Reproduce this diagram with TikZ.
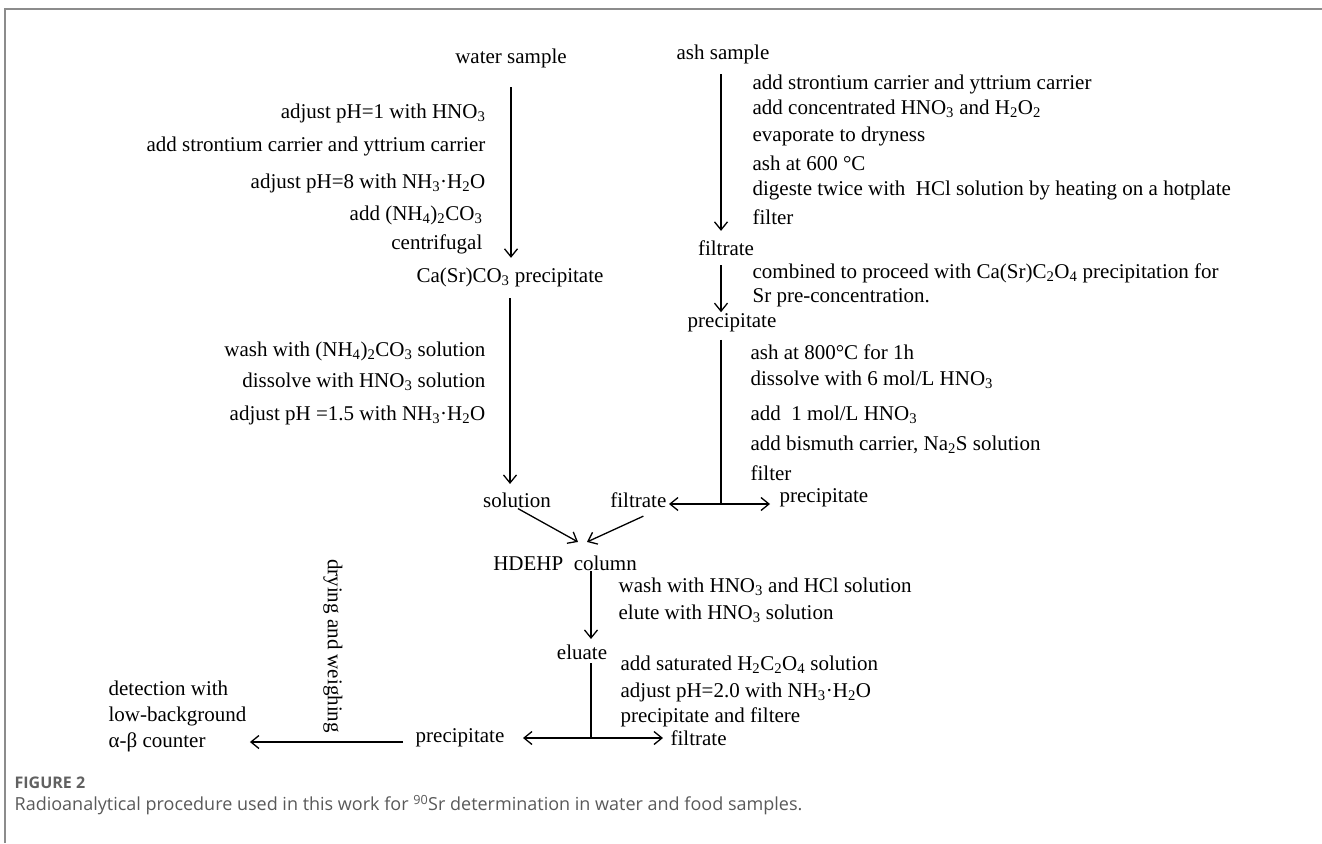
\documentclass[tikz,border=0pt]{standalone}
\usepackage{fontspec}
\setmainfont{Liberation Serif}
\newfontfamily\capfont{Open Sans}
\usetikzlibrary{arrows.meta}
\newcommand\ssub[1]{\textsubscript{#1}}

\begin{document}
\begin{tikzpicture}[x=1pt,y=-1pt,line width=1.3pt,
  txt/.style={font=\fontsize{21}{26}\selectfont,inner sep=0pt},
  stepL/.style={txt,anchor=east},
  stepR/.style={txt,anchor=west},
  flow/.style={-{Straight Barb[length=8pt,width=13pt]}},
  split/.style={{Straight Barb[length=8pt,width=13pt]}-{Straight Barb[length=8pt,width=13pt]}}]
\useasboundingbox (0,0) rectangle (1322,843);
% frame
\draw[black!45,line width=1.6pt] (5,843) -- (5,9) -- (1322,9);

% water sample
\node[txt] (water) at (511,58) {water sample};
\node[stepL] at (486,113) {adjust pH=1 with HNO\ssub{3}};
\node[stepL] at (486,146) {add strontium carrier and yttrium carrier};
\node[stepL] at (486,183) {adjust pH=8 with NH\ssub{3}·H\ssub{2}O};
\node[stepL] at (483,215) {add (NH\ssub{4})\ssub{2}CO\ssub{3}};
\node[stepL] at (483,244) {centrifugal};
\node[txt] (casr) at (510,277) {Ca(Sr)CO\ssub{3} precipitate};
\node[stepL] at (486,351) {wash with (NH\ssub{4})\ssub{2}CO\ssub{3} solution};
\node[stepL] at (486,382) {dissolve with HNO\ssub{3} solution};
\node[stepL] at (486,415) {adjust pH =1.5 with NH\ssub{3}·H\ssub{2}O};
\node[txt] (solution) at (517,500) {solution};

% ash sample
\node[txt] (ash) at (723,54) {ash sample};
\node[stepR] at (752,84) {add strontium carrier and yttrium carrier};
\node[stepR] at (752,109) {add concentrated HNO\ssub{3} and H\ssub{2}O\ssub{2}};
\node[stepR] at (752,136) {evaporate to dryness};
\node[stepR] at (752,163) {ash at 600 °C};
\node[stepR] at (752,190) {digeste twice with \ HCl solution by heating on a hotplate};
\node[stepR] at (752,217) {filter};
\node[txt] (filtrateA) at (726,248) {filtrate};
\node[stepR] at (752,273) {combined to proceed with Ca(Sr)C\ssub{2}O\ssub{4} precipitation for};
\node[stepR] at (752,298) {Sr pre-concentration.};
\node[txt] (precipA) at (732,323) {precipitate};
\node[stepR] at (750,352) {ash at 800°C for 1h};
\node[stepR] at (750,380) {dissolve with 6 mol/L HNO\ssub{3}};
\node[stepR] at (750,415) {add \ 1 mol/L HNO\ssub{3}};
\node[stepR] at (750,445) {add bismuth carrier, Na\ssub{2}S solution};
\node[stepR] at (750,473) {filter};
\coordinate (forkA) at (721,504);
\node[txt,anchor=east] (filtrateB) at (667,500) {filtrate};
\node[txt,anchor=west] (precipB) at (779,498) {precipitate};

% column
\node[txt] (hdehp) at (565,563) {HDEHP\ \ column};
\node[stepR] at (618,587) {wash with HNO\ssub{3} and HCl solution};
\node[stepR] at (618,614) {elute with HNO\ssub{3} solution};
\node[txt] (eluate) at (582,652) {eluate};
\node[stepR] at (620,665) {add saturated H\ssub{2}C\ssub{2}O\ssub{4} solution};
\node[stepR] at (620,692) {adjust pH=2.0 with NH\ssub{3}·H\ssub{2}O};
\node[stepR] at (620,717) {precipitate and filtere};
\coordinate (forkB) at (591,738);
\node[txt,anchor=east] (precipC) at (505,738) {precipitate};
\node[txt,anchor=west] (filtrateC) at (670,738) {filtrate};
\node[txt,rotate=-90] (dry) at (333,646) {drying and weighing};
\node[txt,anchor=west,align=left] (detect) at (108,716) {detection with\\low-background\\α-β counter};

\draw[flow,shorten <=19pt,shorten >=9pt] (water.south) -- (water.south |- casr.north);
\draw[flow,shorten <=11pt,shorten >=8pt] (casr.south) -- (casr.south |- solution.north);
\draw[flow,shorten <=10pt,shorten >=9pt] (ash.south -| forkA) -- (filtrateA.north -| forkA);
\draw[flow,shorten <=9pt,shorten >=1pt] (filtrateA.south -| forkA) -- (precipA.north -| forkA);
\draw[shorten <=7pt] (precipA.south -| forkA) -- (forkA);
\draw[split,shorten <=2pt,shorten >=9pt] (filtrateB.east |- forkA) -- (precipB.west |- forkA);
\draw[flow,shorten <=1pt] (solution.south) -- ([xshift=13pt,yshift=13pt]hdehp.north);
\draw[flow] ([xshift=5pt,yshift=-8pt]filtrateB.south) -- ([xshift=22pt,yshift=13pt]hdehp.north);
\draw[flow,shorten >=5pt] (hdehp.south -| forkB) -- (eluate.north -| forkB);
\draw[shorten <=3pt] (eluate.south -| forkB) -- (forkB);
\draw[split,shorten <=18pt,shorten >=7pt] (precipC.east |- forkB) -- (filtrateC.west |- forkB);
\draw[flow,shorten <=12pt,shorten >=3pt] ([yshift=-4pt]precipC.west) -- ([yshift=-4pt]precipC.west -| detect.east);

% caption
\node[anchor=west,inner sep=0pt,text=black!62,font=\capfont\bfseries\fontsize{16}{19}\selectfont] (figno) at (14,783) {FIGURE 2};
\node[anchor=west,inner sep=0pt,text=black!65,font=\capfont\fontsize{18}{21}\selectfont] (caption) at (14,805) {Radioanalytical procedure used in this work for \textsuperscript{90}Sr determination in water and food samples.};
\end{tikzpicture}
\end{document}
